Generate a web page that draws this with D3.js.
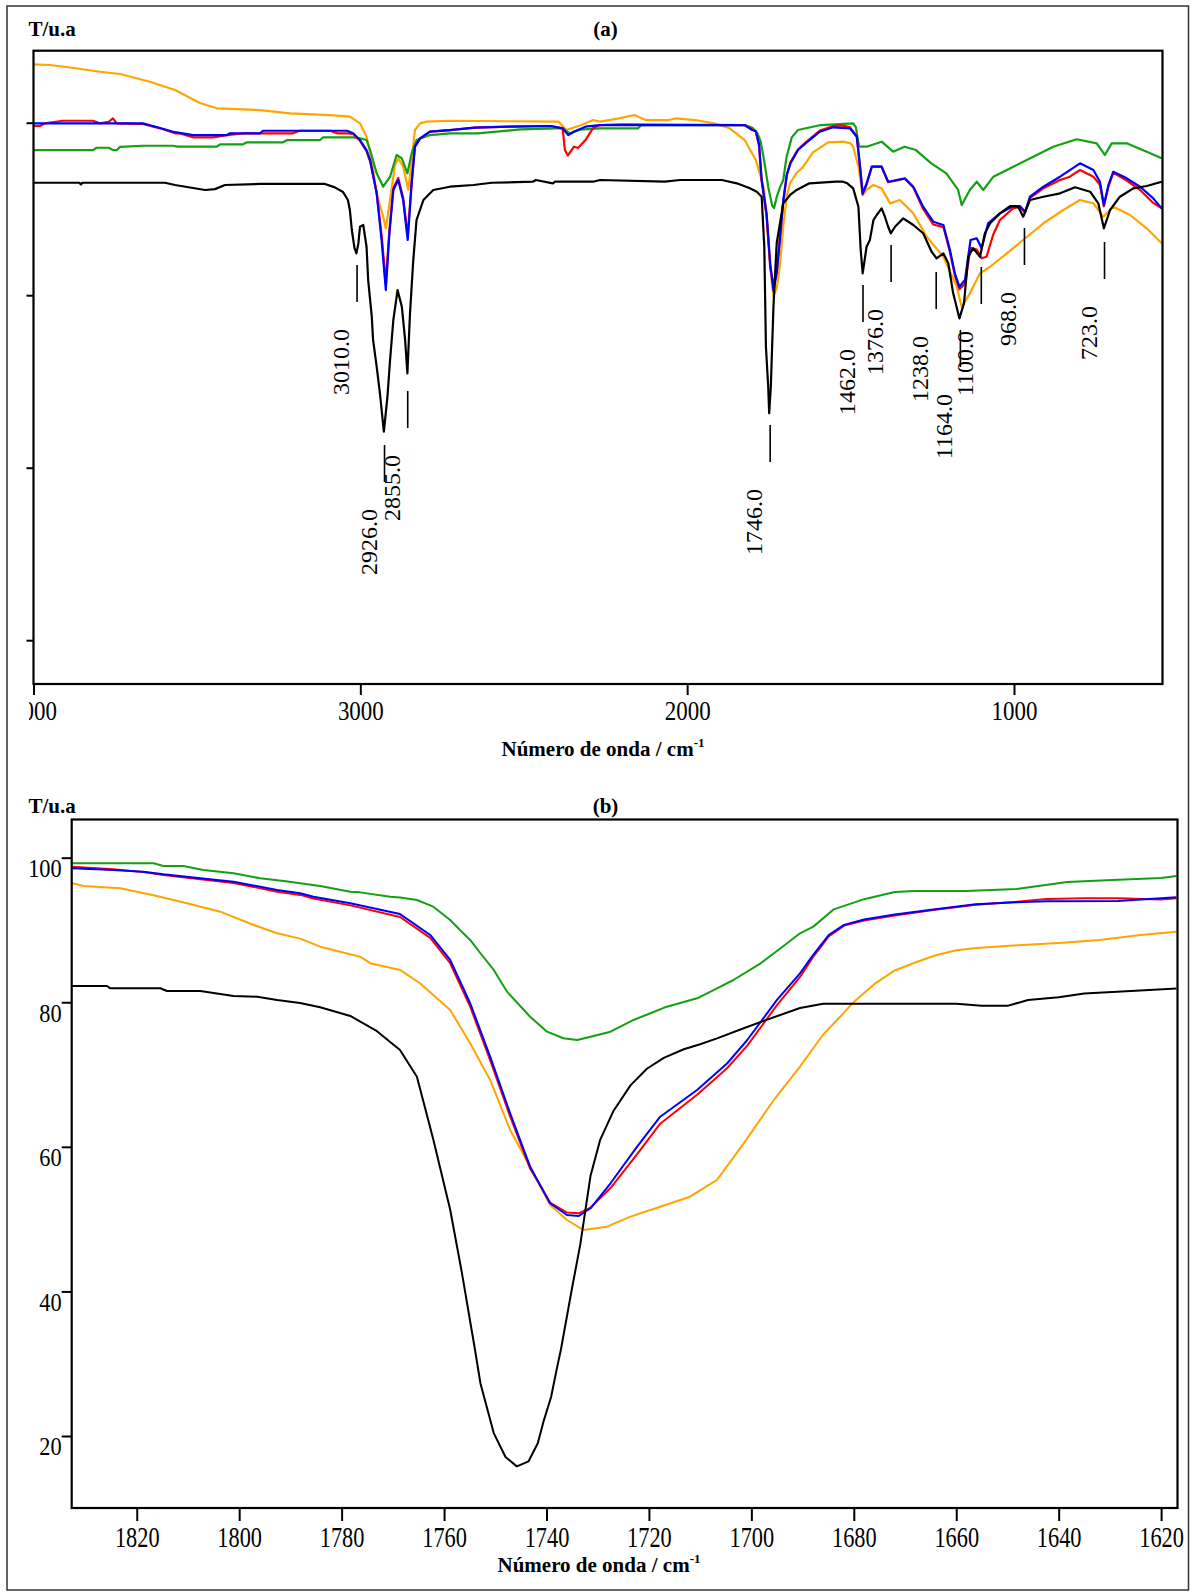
<!DOCTYPE html>
<html><head><meta charset="utf-8">
<script src="https://cdn.jsdelivr.net/npm/d3@7"></script>
<style>html,body{margin:0;padding:0;background:#fff}</style>
</head><body>
<svg id="c" width="1197" height="1593"></svg>
<script>
// ---------- Panel (a) : full FTIR spectra, wavenumber (cm-1) vs transmittance (a.u.) ----------
const ticksAx = [4000, 3000, 2000, 1000];
const ticksAy = [100, 80, 60, 40];

const blackA = [[4000,93.04],[3860,93.04],[3855,92.85],[3850,93.04],[3598,93.04],[3567,92.78],[3521,92.49],[3475,92.2],[3445,92.3],[3414,92.78],[3307,92.9],[3108,92.9],[3078,92.5],[3053,91.97],[3038,91.04],[3032,89.88],[3026,87.56],[3018,85.5],[3012,84.85],[3006,86.0],[3001,87.94],[2991,88.14],[2981,85.62],[2976,81.76],[2965,77.51],[2961,74.81],[2950,71.71],[2940,68.63],[2928,64.17],[2917,68.23],[2909,72.49],[2899,77.13],[2886,80.6],[2873,78.67],[2863,74.81],[2856,70.94],[2848,77.9],[2838,84.08],[2828,88.72],[2807,91.04],[2777,92.2],[2726,92.58],[2654,92.78],[2598,93.04],[2472,93.16],[2463,93.36],[2411,92.97],[2404,93.16],[2288,93.16],[2267,93.36],[2069,93.16],[2022,93.36],[1894,93.36],[1848,92.97],[1808,92.4],[1787,92.0],[1772,91.42],[1764,85.62],[1759,74.03],[1752,69.39],[1749,66.31],[1744,69.39],[1736,78.67],[1726,86.02],[1716,88.34],[1706,90.65],[1685,91.62],[1665,92.2],[1626,92.97],[1545,93.16],[1523,93.16],[1510,92.97],[1492,92.39],[1476,90.26],[1469,85.24],[1463,82.54],[1451,85.62],[1441,86.4],[1430,88.72],[1420,89.3],[1405,90.07],[1395,89.1],[1385,87.94],[1377,87.18],[1364,87.94],[1339,88.91],[1308,88.14],[1278,87.18],[1252,85.04],[1237,84.28],[1216,84.85],[1201,83.7],[1186,80.22],[1167,77.32],[1153,79.06],[1140,84.46],[1125,85.44],[1104,84.46],[1089,87.18],[1073,88.34],[1043,89.49],[1012,90.34],[987,90.26],[972,89.1],[951,91.04],[910,91.42],[859,91.81],[813,92.51],[767,92.0],[742,90.65],[725,87.76],[706,89.88],[676,91.42],[635,92.39],[594,92.66],[548,93.16]];

const redA = [[4000,99.62],[3980,99.62],[3965,99.93],[3910,100.23],[3818,100.23],[3797,99.93],[3770,100.1],[3757,100.51],[3745,99.93],[3665,99.85],[3613,99.35],[3567,98.77],[3552,98.77],[3512,98.31],[3451,98.31],[3408,98.57],[3359,98.77],[3206,98.77],[3187,99.07],[3093,99.07],[3071,98.77],[3041,98.77],[3022,98.7],[3001,97.9],[2981,96.7],[2970,95.5],[2950,91.9],[2935,87.0],[2922,81.41],[2911,87.6],[2899,92.4],[2884,93.6],[2869,91.3],[2855,86.9],[2843,93.1],[2833,97.2],[2817,98.19],[2787,98.96],[2726,99.15],[2650,99.42],[2545,99.54],[2417,99.62],[2381,99.35],[2374,96.83],[2365,96.2],[2346,97.22],[2334,97.07],[2311,97.99],[2288,99.38],[2267,99.73],[2200,99.8],[1824,99.73],[1801,99.2],[1790,99.0],[1780,97.3],[1772,93.2],[1757,89.2],[1746,83.3],[1736,81.2],[1726,82.8],[1716,86.8],[1706,90.8],[1695,93.9],[1684,95.4],[1661,96.9],[1638,97.7],[1594,99.1],[1553,99.6],[1530,99.7],[1502,99.5],[1481,98.4],[1471,94.8],[1463,91.7],[1451,92.8],[1435,94.9],[1405,94.9],[1385,93.1],[1359,93.3],[1334,93.5],[1308,92.5],[1278,90.0],[1247,88.2],[1216,87.9],[1196,85.0],[1181,82.3],[1167,80.7],[1150,81.3],[1133,85.5],[1114,85.3],[1099,84.28],[1084,84.46],[1064,86.98],[1043,88.72],[1002,90.1],[982,90.2],[966,89.6],[951,91.3],[910,92.4],[859,93.36],[829,93.74],[798,94.52],[757,93.74],[737,92.8],[725,90.3],[711,92.6],[696,94.2],[655,93.3],[614,92.2],[574,90.7],[548,90.07]];

const blueA = [[4000,99.93],[3665,99.93],[3613,99.38],[3567,98.9],[3512,98.57],[3408,98.57],[3399,98.77],[3307,98.77],[3298,99.07],[3041,99.07],[3022,98.77],[3001,97.99],[2981,96.83],[2970,95.67],[2950,91.81],[2935,86.4],[2922,80.6],[2911,87.18],[2899,92.2],[2884,93.36],[2869,91.04],[2855,86.4],[2843,92.97],[2833,97.22],[2817,98.19],[2787,98.96],[2726,99.15],[2650,99.42],[2545,99.54],[2417,99.62],[2381,99.35],[2364,98.57],[2346,98.96],[2311,99.54],[2267,99.73],[1824,99.73],[1801,99.15],[1790,99.0],[1780,97.5],[1772,93.36],[1757,89.49],[1746,83.7],[1736,80.5],[1726,82.5],[1716,86.5],[1706,91.0],[1695,94.0],[1684,95.29],[1661,96.83],[1638,97.61],[1594,98.96],[1553,99.47],[1502,99.35],[1481,98.38],[1471,94.9],[1463,91.81],[1451,92.97],[1435,94.9],[1405,94.9],[1385,93.16],[1359,93.36],[1334,93.55],[1308,92.58],[1278,90.26],[1247,88.52],[1216,88.14],[1196,85.24],[1181,82.54],[1167,80.98],[1150,81.76],[1133,86.4],[1114,86.6],[1099,85.44],[1079,88.34],[1043,89.49],[1002,90.34],[982,90.34],[966,89.68],[951,91.42],[910,92.58],[859,93.74],[798,95.29],[757,94.52],[737,93.16],[725,90.46],[711,92.78],[696,94.32],[655,93.55],[614,92.58],[574,91.23],[548,90.07]];

const greenA = [[4000,96.83],[3818,96.83],[3807,97.1],[3770,97.1],[3757,96.83],[3745,96.83],[3735,97.2],[3665,97.33],[3573,97.33],[3560,97.22],[3439,97.22],[3429,97.5],[3359,97.5],[3347,97.73],[3237,97.73],[3224,97.99],[3123,97.99],[3114,98.31],[3022,98.31],[3001,98.19],[2981,98.0],[2970,96.83],[2950,94.13],[2930,92.58],[2909,93.74],[2889,96.26],[2873,95.87],[2856,94.13],[2843,96.45],[2828,97.99],[2787,98.57],[2726,98.77],[2640,98.77],[2510,99.23],[2404,99.35],[2381,99.35],[2359,98.77],[2330,99.2],[2267,99.35],[2150,99.35],[2140,99.73],[1824,99.73],[1800,99.4],[1785,98.8],[1775,97.8],[1764,95.5],[1752,92.58],[1740,90.4],[1734,90.1],[1726,91.4],[1716,92.5],[1706,93.36],[1696,96.0],[1680,98.3],[1661,99.15],[1591,99.73],[1492,99.93],[1484,99.5],[1474,97.22],[1451,97.22],[1405,97.8],[1370,96.64],[1335,97.22],[1300,96.83],[1253,95.29],[1207,94.13],[1171,92.2],[1160,90.46],[1135,92.2],[1114,93.16],[1094,92.2],[1063,93.74],[1002,94.9],[941,96.06],[880,97.22],[808,98.08],[747,97.61],[722,96.26],[701,97.61],[655,97.61],[594,96.64],[548,95.87]];

const orangeA = [[4000,106.77],[3950,106.69],[3888,106.4],[3797,105.91],[3735,105.65],[3644,104.75],[3567,103.79],[3491,102.28],[3439,101.67],[3307,101.47],[3215,101.09],[3093,100.89],[3032,100.7],[3001,99.93],[2981,98.38],[2965,95.67],[2950,91.81],[2930,89.1],[2922,87.76],[2909,91.04],[2894,95.1],[2884,95.87],[2869,94.9],[2853,92.2],[2843,95.67],[2833,99.15],[2817,99.93],[2797,100.12],[2726,100.23],[2393,100.12],[2370,99.15],[2323,99.73],[2288,100.31],[2267,100.12],[2209,100.51],[2162,100.89],[2127,100.31],[2057,100.31],[2034,100.51],[1976,100.31],[1918,99.93],[1870,99.35],[1824,97.99],[1790,95.67],[1766,92.58],[1757,89.1],[1745,83.0],[1736,79.83],[1726,80.8],[1716,83.5],[1706,88.0],[1695,91.5],[1685,93.0],[1665,94.2],[1647,94.8],[1615,96.56],[1569,97.73],[1523,97.8],[1500,97.6],[1492,97.22],[1476,94.9],[1463,91.62],[1451,92.2],[1430,92.78],[1405,92.39],[1379,90.65],[1349,91.04],[1308,89.49],[1267,86.78],[1216,84.46],[1175,80.98],[1160,78.67],[1135,80.22],[1104,82.54],[1073,83.3],[1022,84.85],[972,86.4],[910,88.34],[849,89.88],[798,91.04],[757,90.65],[727,89.1],[696,90.26],[645,89.3],[594,87.76],[548,86.02]];

// peak annotations (wavenumber, label, level of the marker's top)
const peakWn = [3010, 2926, 2855, 1746, 1462, 1376, 1238, 1164, 1100, 968, 723];
const peakLabels = ["3010.0","2926.0","2855.0","1746.0","1462.0","1376.0","1238.0","1164.0","1100.0","968.0","723.0"];
const peakLevel = [83.50, 62.63, 68.89, 64.95, 81.18, 85.82, 82.69, 75.97, 83.27, 87.79, 86.17];

// ---------- Panel (b) : carbonyl region zoom ----------
const ticksBx = [1820, 1800, 1780, 1760, 1740, 1720, 1700, 1680, 1660, 1640, 1620];
const ticksBy = [20, 40, 60, 80, 100];

const blackB = [[1832.6,82.25],[1825.8,82.25],[1825.2,81.93],[1815.4,81.93],[1814.1,81.56],[1807.6,81.56],[1801.1,80.87],[1796.5,80.77],[1792.6,80.32],[1788.1,79.9],[1784.2,79.3],[1778.3,78.1],[1773.1,76.0],[1768.6,73.4],[1765.3,69.7],[1762.1,61.0],[1758.8,51.3],[1756.5,42.5],[1754,32.1],[1752.9,27.3],[1750.3,20.4],[1748,17.1],[1745.8,15.8],[1743.5,16.5],[1741.7,19.0],[1740.5,22.2],[1739.1,25.4],[1737.9,29.6],[1737.2,31.9],[1735,40.5],[1733.4,46.5],[1731.4,56.0],[1729.5,61.0],[1726.9,65.0],[1723.6,68.5],[1720.4,70.8],[1717.1,72.3],[1713.2,73.5],[1710,74.2],[1706.7,75.0],[1701.5,76.4],[1696.9,77.6],[1690.5,79.2],[1686,79.8],[1680,79.8],[1660,79.8],[1655,79.5],[1650,79.5],[1646,80.3],[1640,80.7],[1635,81.2],[1625,81.6],[1617,81.9]];

const redB = [[1832.6,98.76],[1824.6,98.4],[1818.7,98.0],[1814.8,97.6],[1807.6,97.0],[1801.1,96.5],[1792.6,95.3],[1788.1,94.85],[1785.5,94.35],[1778.3,93.4],[1768.6,91.8],[1762.7,88.9],[1758.8,85.4],[1754.9,79.4],[1751,72.0],[1747.1,64.2],[1743.2,57.0],[1739.3,52.3],[1736,50.9],[1733.7,50.8],[1731.4,51.6],[1727.5,54.3],[1722.3,59.0],[1717.8,63.2],[1710.6,67.2],[1704.7,70.9],[1700.8,74.0],[1695,79.6],[1690.5,83.5],[1688,86.2],[1684.9,89.1],[1681.9,90.6],[1678,91.3],[1672,92.0],[1664.1,92.8],[1656.2,93.5],[1648.2,93.9],[1642.3,94.3],[1635,94.4],[1628.4,94.4],[1620,94.2],[1617,94.4]];

const blueB = [[1832.6,98.53],[1824.6,98.3],[1818.7,98.06],[1814.8,97.7],[1807.6,97.15],[1801.1,96.68],[1792.6,95.53],[1788.1,95.08],[1785.5,94.6],[1778.3,93.69],[1768.6,92.2],[1762.7,89.31],[1758.8,85.85],[1754.9,79.86],[1751,72.47],[1747.1,64.64],[1743.2,57.26],[1739.3,52.19],[1736,50.57],[1733.7,50.43],[1731.4,51.5],[1727.5,54.96],[1722.3,60.02],[1717.8,64.17],[1710.6,67.87],[1704.7,71.56],[1700.8,74.78],[1695,80.32],[1690.5,84.0],[1688,86.5],[1684.9,89.3],[1681.9,90.7],[1678,91.44],[1672,92.14],[1664.1,92.85],[1656.2,93.55],[1648.2,93.83],[1642.3,93.97],[1628.4,94.0],[1617,94.54]];

const greenB = [[1832.6,99.23],[1816.7,99.23],[1814.8,98.85],[1810.9,98.85],[1807,98.3],[1801.1,97.84],[1795.9,97.15],[1791.3,96.78],[1788.1,96.46],[1784.2,96.08],[1778.3,95.3],[1776.4,95.2],[1770.5,94.6],[1768.6,94.5],[1765.3,94.15],[1762.1,93.22],[1758.8,91.38],[1756.9,90.0],[1754.9,88.62],[1752.9,86.78],[1750.3,84.47],[1747.7,81.46],[1743.2,78.0],[1739.9,75.93],[1736.7,75.02],[1734.0,74.78],[1731.4,75.24],[1727.5,75.93],[1723,77.55],[1719.7,78.48],[1716.5,79.39],[1710.6,80.55],[1706.7,81.93],[1703.5,83.08],[1698.2,85.39],[1694.3,87.47],[1690.5,89.54],[1687.9,90.46],[1683.9,92.85],[1678,94.26],[1672,95.24],[1668.1,95.38],[1658.1,95.4],[1648.2,95.66],[1638.3,96.64],[1628.4,96.93],[1620,97.2],[1617,97.48]];

const orangeB = [[1832.6,96.46],[1830.4,96.08],[1823.2,95.77],[1816.1,94.7],[1810.2,93.69],[1803.7,92.53],[1797.2,90.69],[1792.6,89.54],[1788.1,88.8],[1784.2,87.69],[1776.4,86.3],[1774.4,85.4],[1768.6,84.47],[1764.7,82.63],[1758.8,78.93],[1754.9,74.33],[1751,69.25],[1747.1,62.33],[1743.2,57.26],[1739.3,51.96],[1736,49.88],[1732.8,48.5],[1728.2,48.96],[1723.6,50.34],[1717.8,51.72],[1712,53.1],[1706.7,55.42],[1701.5,60.49],[1695.6,66.48],[1690.5,71.09],[1686,75.5],[1682,78.5],[1680,80.05],[1676,82.5],[1672,84.4],[1668,85.5],[1664,86.5],[1660,87.2],[1656,87.5],[1648,87.9],[1640,88.2],[1632,88.6],[1624,89.3],[1617,89.75]];

const seriesColors = {orange:"#ffa500", green:"#13a013", red:"#ff0000", blue:"#0000ff", black:"#000000"};

// ---------- drawing ----------
const svg = d3.select("#c");
const FONT = "'Liberation Serif','Times New Roman',serif";
const defs = svg.append("defs");

svg.append("rect").attr("x",7).attr("y",6).attr("width",1181.5).attr("height",1584)
  .attr("fill","none").attr("stroke","#333").attr("stroke-width",1.5);

function header(yBase, tag){
  svg.append("text").attr("x",28.5).attr("y",yBase).attr("font-family",FONT).attr("font-weight","bold")
    .attr("font-size",21).text("T/u.a");
  svg.append("text").attr("x",605.5).attr("y",yBase).attr("text-anchor","middle").attr("font-family",FONT)
    .attr("font-weight","bold").attr("font-size",21).text(tag);
}
function xTitle(cx, yBase){
  const t = svg.append("text").attr("x",cx).attr("y",yBase).attr("text-anchor","middle")
    .attr("font-family",FONT).attr("font-weight","bold").attr("font-size",21);
  t.append("tspan").text("Número de onda / cm");
  t.append("tspan").attr("font-size",13).attr("dy",-9).text("-1");
}

function drawPanel(p){
  const {x, y, left, right, top, bottom, id, series, lw} = p;
  defs.append("clipPath").attr("id","clip"+id).append("rect")
    .attr("x",left).attr("y",top).attr("width",right-left).attr("height",bottom-top);
  const line = d3.line().x(d=>x(d[0])).y(d=>y(d[1]));
  const g = svg.append("g").attr("clip-path",`url(#clip${id})`);
  series.forEach(s=>{
    g.append("path").datum(s.data).attr("d",line).attr("fill","none")
      .attr("stroke",s.color).attr("stroke-width",lw).attr("stroke-linejoin","round");
  });
  svg.append("rect").attr("x",left).attr("y",top).attr("width",right-left).attr("height",bottom-top)
    .attr("fill","none").attr("stroke","#000").attr("stroke-width",2.2);
}

// panel (a)
const xA = d3.scaleLinear().domain([4000, 545.6]).range([33.5, 1162.5]);
const yA = d3.scaleLinear().domain([34.92, 108.35]).range([684, 50.7]);
header(35.7, "(a)");
drawPanel({x:xA, y:yA, left:33.5, right:1162.5, top:50.7, bottom:684, id:"A", lw:2.2,
  series:[{data:orangeA,color:seriesColors.orange},{data:greenA,color:seriesColors.green},
          {data:redA,color:seriesColors.red},{data:blueA,color:seriesColors.blue},{data:blackA,color:seriesColors.black}]});

defs.append("clipPath").attr("id","clipAxA").append("rect").attr("x",29).attr("y",-5).attr("width",1160).attr("height",60);
svg.append("g").attr("transform","translate(0,684)").attr("clip-path","url(#clipAxA)")
  .call(d3.axisBottom(xA).tickValues(ticksAx).tickFormat(d3.format("d")).tickSize(11).tickSizeOuter(0))
  .call(g=>g.select(".domain").remove())
  .call(g=>g.selectAll("line").attr("stroke","#000").attr("stroke-width",2))
  .call(g=>g.selectAll("text").attr("y",null).attr("dy",null).attr("fill","#000")
      .attr("font-family",FONT).attr("font-size",27).attr("transform","translate(0,36) scale(0.85,1)"));
svg.append("g").attr("transform","translate(33.5,0)")
  .call(d3.axisLeft(yA).tickValues(ticksAy).tickFormat("").tickSize(7).tickSizeOuter(0))
  .call(g=>g.select(".domain").remove())
  .call(g=>g.selectAll("line").attr("stroke","#000").attr("stroke-width",2));
xTitle(603, 756);

// peak markers and labels
const pk = svg.append("g");
peakWn.forEach((w,i)=>{
  const px = xA(w), py = yA(peakLevel[i]);
  pk.append("line").attr("x1",px).attr("x2",px).attr("y1",py).attr("y2",py+37)
    .attr("stroke","#000").attr("stroke-width",1.6);
  pk.append("text").attr("transform",`translate(${px-8},${py+64}) rotate(-90)`)
    .attr("text-anchor","end").attr("font-family",FONT).attr("font-size",24).attr("fill","#000")
    .text(peakLabels[i]);
});

// panel (b)
const xB = d3.scaleLinear().domain([1832.7, 1616.8]).range([71.7, 1177.5]);
const yB = d3.scaleLinear().domain([10.04, 105.28]).range([1508, 819.5]);
header(813.3, "(b)");
drawPanel({x:xB, y:yB, left:71.7, right:1177.5, top:819.5, bottom:1508, id:"B", lw:2,
  series:[{data:orangeB,color:seriesColors.orange},{data:greenB,color:seriesColors.green},
          {data:redB,color:seriesColors.red},{data:blueB,color:seriesColors.blue},{data:blackB,color:seriesColors.black}]});
svg.append("g").attr("transform","translate(0,1508)")
  .call(d3.axisBottom(xB).tickValues(ticksBx).tickFormat(d3.format("d")).tickSize(13).tickSizeOuter(0))
  .call(g=>g.select(".domain").remove())
  .call(g=>g.selectAll("line").attr("stroke","#000").attr("stroke-width",2))
  .call(g=>g.selectAll("text").attr("y",null).attr("dy",null).attr("fill","#000")
      .attr("font-family",FONT).attr("font-size",29).attr("transform","translate(0,38.7) scale(0.77,1)"));
svg.append("g").attr("transform","translate(71.7,0)")
  .call(d3.axisLeft(yB).tickValues(ticksBy).tickFormat(d3.format("d")).tickSize(10).tickSizeOuter(0))
  .call(g=>g.select(".domain").remove())
  .call(g=>g.selectAll("line").attr("stroke","#000").attr("stroke-width",2))
  .call(g=>g.selectAll("text").attr("x",null).attr("dy",null).attr("fill","#000").attr("text-anchor","end")
      .attr("font-family",FONT).attr("font-size",26).attr("transform","translate(-10,19) scale(0.86,1)"));
xTitle(599, 1572);
</script>
</body></html>
